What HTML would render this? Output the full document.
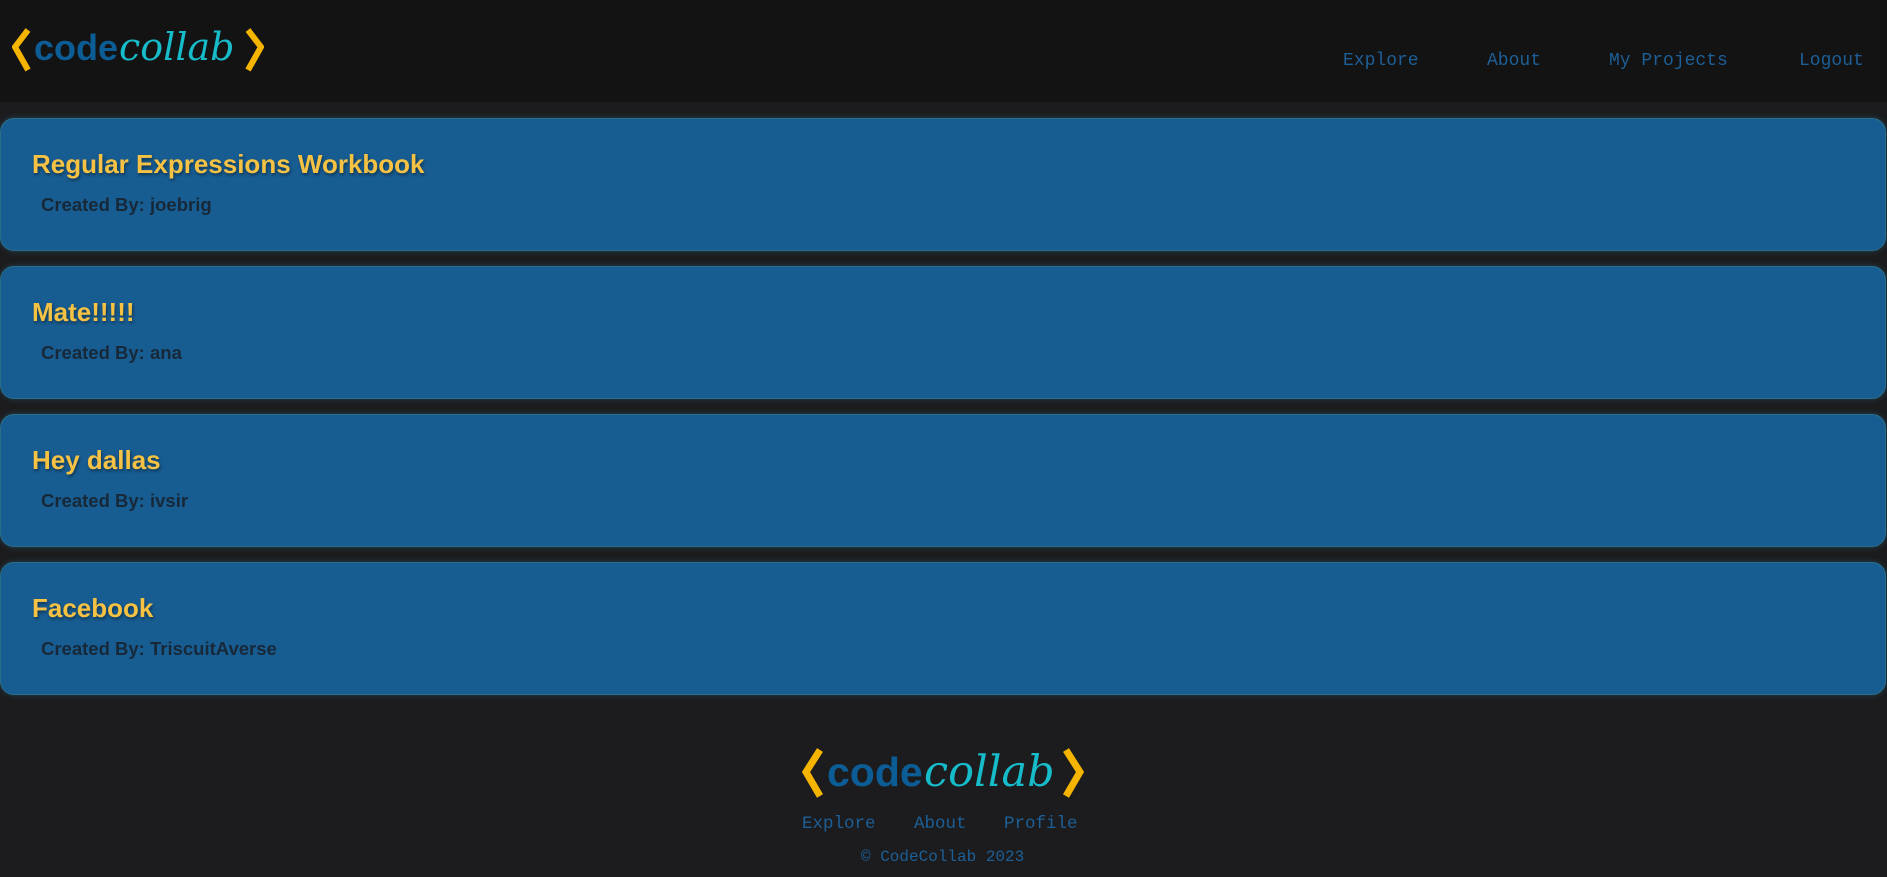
<!DOCTYPE html>
<html><head><meta charset="utf-8"><style>
*{margin:0;padding:0;box-sizing:border-box}
body{width:1887px;height:877px;background:#1c1c1e;overflow:hidden;font-family:"Liberation Sans",sans-serif;position:relative}
header{position:absolute;left:0;top:0;width:1887px;height:102px;background:#131313}
.nav{position:absolute;top:51px;font-family:"Liberation Mono",monospace;font-size:18px;color:#1d5f97;text-decoration:none}
.card{position:absolute;left:0;width:1886px;height:133px;background:#185d92;border-radius:14px;border:1px solid #2a6f8a;box-shadow:0 0 6px rgba(40,110,140,0.5)}
.card h2{position:absolute;left:31px;top:30px;font-size:26px;font-weight:bold;color:#f6c244;text-shadow:1px 2px 3px rgba(0,0,0,0.45)}
.card p{position:absolute;left:40px;top:75px;font-size:18.5px;font-weight:bold;color:#172838}
.logo{position:absolute}
.flink{position:absolute;top:814px;font-family:"Liberation Mono",monospace;font-size:17.5px;color:#1d5f97}
</style></head><body>
<header>
<svg class="logo" style="left:12px;top:12px" width="252" height="62" viewBox="0 0 252 62">
<polyline points="16,18 3,35 16,58" fill="none" stroke="#f4b400" stroke-width="6"/>
<text x="22" y="48" font-family="Liberation Sans,sans-serif" font-weight="bold" font-size="36" fill="#0c5d95">code</text>
<text x="107" y="48" font-family="DejaVu Serif,serif" font-style="italic" font-size="38" fill="#17bccb">collab</text>
<polyline points="236,18 249,35 236,58" fill="none" stroke="#f4b400" stroke-width="6"/>
</svg>
<a class="nav" style="left:1343px">Explore</a>
<a class="nav" style="left:1487px">About</a>
<a class="nav" style="left:1609px">My Projects</a>
<a class="nav" style="left:1799px">Logout</a>
</header>
<div class="card" style="top:118px"><h2>Regular Expressions Workbook</h2><p>Created By: joebrig</p></div>
<div class="card" style="top:266px"><h2>Mate!!!!!</h2><p>Created By: ana</p></div>
<div class="card" style="top:414px"><h2>Hey dallas</h2><p>Created By: ivsir</p></div>
<div class="card" style="top:562px"><h2>Facebook</h2><p>Created By: TriscuitAverse</p></div>
<footer>
<svg class="logo" style="left:802px;top:728px" width="282" height="74" viewBox="0 0 282 74">
<polyline points="18,22 4,44 18,68" fill="none" stroke="#f4b400" stroke-width="7"/>
<text x="25" y="58" font-family="Liberation Sans,sans-serif" font-weight="bold" font-size="41" fill="#0c5d95">code</text>
<text x="122" y="58" font-family="DejaVu Serif,serif" font-style="italic" font-size="43" fill="#17bccb">collab</text>
<polyline points="264,22 278,44 264,68" fill="none" stroke="#f4b400" stroke-width="7"/>
</svg>
<a class="flink" style="left:802px">Explore</a>
<a class="flink" style="left:914px">About</a>
<a class="flink" style="left:1004px">Profile</a>
<div style="position:absolute;left:861px;top:848px;font-family:'Liberation Mono',monospace;font-size:16px;color:#1d5f97">© CodeCollab 2023</div>
</footer>
</body></html>
